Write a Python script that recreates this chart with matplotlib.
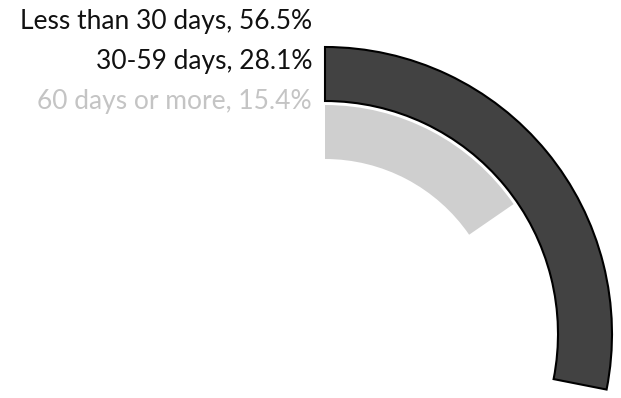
import matplotlib
matplotlib.use("Agg")
import matplotlib.pyplot as plt
import numpy as np

categories = ["Less than 30 days", "30-59 days", "60 days or more"]
shares = [56.5, 28.1, 15.4]
ring_colors = ["#ffffff", "#424242", "#cfcfcf"]
edge_colors = ["none", "#000000", "none"]
label_colors = ["#111111", "#111111", "#c4c4c4"]

W, H = 621, 398
fig = plt.figure(figsize=(W / 100, H / 100), dpi=100)

# polar axes whose radial unit equals one pixel, centre at (325, 334) from top
cx, cy = 325, 334
rmax = 360
ax = fig.add_axes([(cx - rmax) / W, (H - cy - rmax) / H, 2 * rmax / W, 2 * rmax / H],
                  projection="polar")
ax.set_theta_zero_location("N")
ax.set_theta_direction(-1)
ax.set_ylim(0, rmax)
ax.axis("off")

ring_w, gap, r0 = 54, 4, 175
n = len(shares)
for i, (v, c, ec) in enumerate(zip(shares, ring_colors, edge_colors)):
    k = n - 1 - i
    bottom = r0 + k * (ring_w + gap)
    span = np.deg2rad(v / 100 * 360)
    ax.bar(span / 2, ring_w, width=span, bottom=bottom, color=c,
           edgecolor=ec, linewidth=1.5, align="center")

label_y = [22, 62, 102]
for cat, v, col, y in zip(categories, shares, label_colors, label_y):
    fig.text(312 / W, 1 - y / H, f"{cat}, {v}%", ha="right", va="center",
             fontsize=19, color=col, family="Lato")

fig.savefig("out.png", dpi=100)
